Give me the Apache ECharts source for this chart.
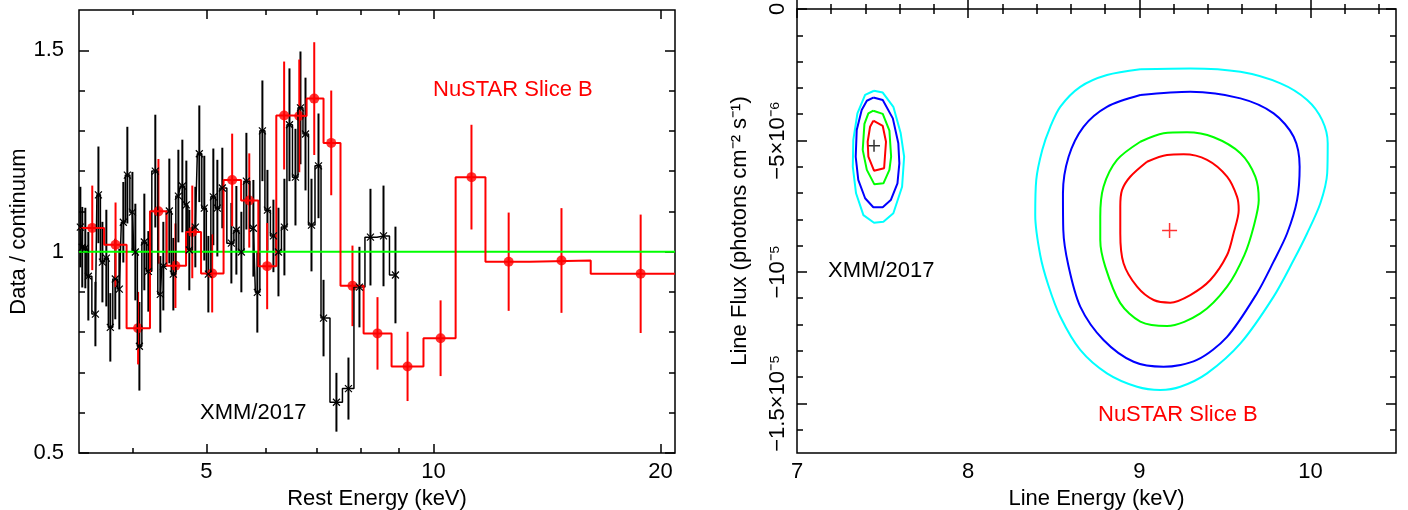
<!DOCTYPE html>
<html lang="en">
<head>
<meta charset="UTF-8">
<title>Data / continuum and line contours</title>
<script src="https://cdn.jsdelivr.net/npm/echarts@6.0.0/dist/echarts.min.js"></script>
<style>
    html, body { margin: 0; padding: 0; background: #fff; }
    #chart { width: 1408px; height: 510px; }
</style>
</head>
<body>
<div id="chart"></div>
<script>
    // ---- left panel: ratio spectra ----
    const xmmEnergy = [3.404, 3.424, 3.456, 3.488, 3.564, 3.597, 3.641, 3.685, 3.730, 3.787,
        3.834, 3.881, 3.929, 3.990, 4.026, 4.076, 4.138, 4.189, 4.279, 4.345,
        4.385, 4.466, 4.521, 4.591, 4.647, 4.704, 4.747, 4.835, 4.894, 4.969,
        5.031, 5.108, 5.171, 5.250, 5.397, 5.480, 5.564, 5.650, 5.772, 5.842,
        5.933, 6.025, 6.136, 6.231, 6.345, 6.444, 6.563, 6.664, 6.767, 6.892,
        7.041, 7.150, 7.437, 7.715, 7.978, 8.251, 8.586, 8.905];
    const xmmRatio = [1.061, 1.011, 1.009, 0.939, 0.845, 1.141, 0.974, 0.984, 0.812, 0.932,
        0.907, 1.073, 1.190, 1.098, 0.999, 0.765, 1.024, 0.951, 1.200, 0.894,
        0.964, 1.101, 0.944, 1.138, 1.163, 1.116, 1.004, 1.061, 1.243, 1.108,
        0.944, 1.136, 1.108, 1.158, 1.021, 1.053, 0.999, 1.175, 1.058, 0.899,
        1.300, 1.103, 1.039, 0.999, 1.061, 1.315, 1.185, 1.357, 1.292, 1.066,
        1.213, 0.835, 0.626, 0.660, 0.912, 1.036, 1.039, 0.942];
    const xmmErr = [0.10, 0.10, 0.10, 0.11, 0.08, 0.12, 0.10, 0.12, 0.085, 0.10,
        0.10, 0.10, 0.12, 0.10, 0.12, 0.11, 0.12, 0.10, 0.14, 0.095,
        0.11, 0.13, 0.09, 0.115, 0.115, 0.11, 0.10, 0.10, 0.12, 0.13,
        0.095, 0.12, 0.12, 0.10, 0.10, 0.11, 0.10, 0.12, 0.12, 0.10,
        0.125, 0.10, 0.09, 0.11, 0.12, 0.14, 0.12, 0.14, 0.14, 0.115,
        0.13, 0.095, 0.073, 0.077, 0.10, 0.12, 0.125, 0.12];

    const nuEnergy = [3.53, 3.79, 4.06, 4.32, 4.55, 4.79, 5.09, 5.41, 5.70, 6.02, 6.34,
        6.64, 6.95, 7.32, 7.81, 8.43, 9.24, 10.22, 11.23, 12.58, 14.78, 18.82];
    const nuRatio = [1.059, 1.017, 0.81, 1.10, 0.965, 1.049, 0.946, 1.178, 1.127, 0.964, 1.338,
        1.337, 1.38, 1.27, 0.915, 0.797, 0.715, 0.785, 1.185, 0.975, 0.978, 0.945];
    const nuErr = [0.105, 0.105, 0.09, 0.13, 0.105, 0.115, 0.097, 0.115, 0.117, 0.107, 0.134,
        0.14, 0.14, 0.13, 0.10, 0.09, 0.086, 0.094, 0.13, 0.122, 0.13, 0.147];
    const nuBinEdges = [3.39, 3.66, 3.92, 4.21, 4.43, 4.70, 4.92, 5.27, 5.56, 5.86, 6.19, 6.50,
        6.79, 7.15, 7.53, 8.08, 8.80, 9.70, 10.70, 11.72, 13.41, 16.16, 20.9];

    const ratioLine = 1;
    const restRange = [3.39, 20.9];
    const ratioRange = [0.5, 1.6];
    const restTicks = [5, 10, 20];
    const restMinor = [4, 6, 7, 8, 9];
    const ratioTicks = [0.5, 1, 1.5];
    const ratioMinor = [0.6, 0.7, 0.8, 0.9, 1.1, 1.2, 1.3, 1.4];

    // ---- right panel: confidence contours (flux in units of 1e-6) ----
    const xmmBest = [[7.45, -5.20]];
    const xmmRed = [[7.446, -4.25], [7.501, -4.45], [7.520, -5.05], [7.509, -6.06], [7.450, -6.15],
        [7.417, -5.62], [7.413, -5.05], [7.427, -4.48], [7.446, -4.25]];
    const xmmGreen = [[7.446, -3.87], [7.501, -3.99], [7.540, -4.63], [7.550, -5.62], [7.540, -6.12],
        [7.505, -6.63], [7.452, -6.67], [7.408, -6.12], [7.384, -5.36], [7.394, -4.37],
        [7.417, -3.97], [7.446, -3.87]];
    const xmmBlue = [[7.446, -3.37], [7.501, -3.46], [7.560, -4.16], [7.592, -5.11], [7.598, -5.87],
        [7.587, -6.63], [7.548, -7.27], [7.501, -7.54], [7.446, -7.54], [7.398, -7.20],
        [7.358, -6.50], [7.343, -5.62], [7.349, -4.60], [7.378, -3.84], [7.408, -3.49],
        [7.446, -3.37]];
    const xmmCyan = [[7.450, -3.11], [7.501, -3.18], [7.563, -3.72], [7.606, -4.73], [7.626, -5.62],
        [7.614, -6.76], [7.563, -7.77], [7.505, -8.09], [7.450, -8.13], [7.388, -7.84],
        [7.345, -7.01], [7.326, -6.00], [7.329, -4.98], [7.353, -3.97], [7.398, -3.27],
        [7.450, -3.11]];

    const nuBest = [[9.177, -8.43]];
    const nuRed = [[9.045, -5.81], [9.162, -5.55], [9.259, -5.53], [9.396, -5.74], [9.513, -6.38],
        [9.571, -7.14], [9.581, -7.65], [9.551, -8.53], [9.513, -9.36], [9.415, -10.31],
        [9.298, -10.88], [9.181, -11.17], [9.084, -11.07], [8.987, -10.56], [8.908, -9.67],
        [8.889, -8.53], [8.889, -7.52], [8.899, -6.89], [8.947, -6.38], [9.045, -5.81]];
    const nuGreen = [[9.006, -5.05], [9.142, -4.73], [9.279, -4.69], [9.435, -4.88], [9.591, -5.49],
        [9.678, -6.38], [9.698, -7.27], [9.668, -8.28], [9.614, -9.36], [9.513, -10.56],
        [9.357, -11.58], [9.162, -12.06], [9.006, -11.89], [8.889, -11.19], [8.801, -9.80],
        [8.772, -8.79], [8.772, -7.90], [8.791, -6.76], [8.870, -5.74], [9.006, -5.05]];
    const nuBlue = [[9.006, -3.27], [9.298, -3.15], [9.591, -3.40], [9.785, -3.97], [9.902, -4.86],
        [9.937, -6.00], [9.922, -7.27], [9.864, -8.53], [9.784, -9.62], [9.688, -10.81],
        [9.513, -12.47], [9.337, -13.35], [9.142, -13.61], [8.967, -13.42], [8.791, -12.59],
        [8.655, -11.32], [8.585, -9.74], [8.556, -8.41], [8.554, -7.01], [8.587, -5.62],
        [8.674, -4.48], [8.811, -3.72], [9.006, -3.27]];
    const nuCyan = [[9.006, -2.29], [9.298, -2.26], [9.591, -2.39], [9.825, -2.83], [9.981, -3.46],
        [10.068, -4.22], [10.101, -5.11], [10.098, -6.25], [10.058, -7.39], [9.981, -8.53],
        [9.902, -9.55], [9.785, -10.94], [9.591, -12.72], [9.396, -13.86], [9.240, -14.37],
        [9.123, -14.49], [8.987, -14.37], [8.811, -13.86], [8.655, -12.97], [8.538, -11.70],
        [8.468, -10.50], [8.421, -9.36], [8.392, -7.84], [8.398, -6.50], [8.433, -5.36],
        [8.480, -4.48], [8.538, -3.72], [8.655, -2.96], [8.811, -2.51], [9.006, -2.29]];

    const lineERange = [7, 10.5];
    const fluxRange = [-16.89, 0];
    const lineETicks = [7, 8, 9, 10];
    const lineEMinor = [7.2, 7.4, 7.6, 7.8, 8.2, 8.4, 8.6, 8.8, 9.2, 9.4, 9.6, 9.8, 10.2, 10.4];
    const fluxTicks = [0, -5, -10, -15];
    const fluxMinor = [-1, -2, -3, -4, -6, -7, -8, -9, -11, -12, -13, -14, -16];
    const fluxTickText = { '0': '0', '-5': '\u22125\u00d710\u207b\u2076', '-10': '\u221210\u207b\u2075', '-15': '\u22121.5\u00d710\u207b\u2075' };

    const FONT = "'Liberation Sans', Arial, Helvetica, sans-serif";

    // four axes per dimension: labelled side, its minor ticks, mirrored side, its minor ticks
    function axisSet(dim, grid, type, range, major, minor, extra) {
        const sides = dim === 'x' ? ['bottom', 'top'] : ['left', 'right'];
        const majorLen = dim === 'x' ? 9 : 10;
        const minorLen = dim === 'x' ? 5 : 6;
        const tick = (vals, len) => ({
            show: true, inside: true, length: len, customValues: vals,
            lineStyle: { color: '#000', width: 1.5 }
        });
        const list = [];
        sides.forEach((pos, k) => {
            const base = {
                gridIndex: grid, type: type, min: range[0], max: range[1], position: pos,
                axisLine: { show: false }, splitLine: { show: false }, splitArea: { show: false }
            };
            list.push(Object.assign({}, base, {
                axisTick: tick(major, majorLen),
                axisLabel: k === 0 ? extra.label : { show: false }
            }, k === 0 ? extra.name : {}));
            list.push(Object.assign({}, base, { axisTick: tick(minor, minorLen), axisLabel: { show: false } }));
        });
        return list;
    }

    function errorBars(axis, xs, ys, errs, color, width) {
        return {
            type: 'custom', xAxisIndex: axis, yAxisIndex: axis, clip: true,
            data: xs.map((x, i) => [x, ys[i] - errs[i], ys[i] + errs[i]]),
            encode: { x: 0, y: [1, 2] },
            renderItem: (params, api) => {
                const lo = api.coord([api.value(0), api.value(1)]);
                const hi = api.coord([api.value(0), api.value(2)]);
                return {
                    type: 'line',
                    shape: { x1: lo[0], y1: lo[1], x2: hi[0], y2: hi[1] },
                    style: { stroke: color, lineWidth: width }
                };
            }
        };
    }

    function contour(data, color, smooth) {
        return {
            type: 'line', xAxisIndex: 4, yAxisIndex: 4, data: data, showSymbol: false,
            smooth: smooth, lineStyle: { color: color, width: 2 }, silent: true
        };
    }

    const labelStyle = { color: '#000', fontSize: 22, fontFamily: FONT };
    const nameStyle = { color: '#000', fontSize: 22, fontFamily: FONT };

    // red step histogram from bin edges
    const nuStep = [];
    nuRatio.forEach((v, i) => {
        nuStep.push([nuBinEdges[i], v]);
        nuStep.push([nuBinEdges[i + 1], v]);
    });

    const xAxes = [].concat(
        axisSet('x', 0, 'log', restRange, restTicks, restMinor, {
            label: Object.assign({ show: true, customValues: restTicks, margin: 8, formatter: v => String(v) }, labelStyle),
            name: { name: 'Rest Energy (keV)', nameLocation: 'middle', nameGap: 31, nameTextStyle: nameStyle }
        }),
        axisSet('x', 1, 'value', lineERange, lineETicks, lineEMinor, {
            label: Object.assign({ show: true, customValues: lineETicks, margin: 8, formatter: v => String(v) }, labelStyle),
            name: { name: 'Line Energy (keV)', nameLocation: 'middle', nameGap: 31, nameTextStyle: nameStyle }
        })
    );
    const yAxes = [].concat(
        axisSet('y', 0, 'value', ratioRange, ratioTicks, ratioMinor, {
            label: Object.assign({ show: true, customValues: ratioTicks, margin: 15, formatter: v => String(v) }, labelStyle),
            name: { name: 'Data / continuum', nameLocation: 'middle', nameGap: 49, nameTextStyle: nameStyle }
        }),
        axisSet('y', 1, 'value', fluxRange, fluxTicks, fluxMinor, {
            label: Object.assign({ show: true, customValues: fluxTicks, margin: 8, rotate: 90,
                formatter: v => fluxTickText[String(Math.round(v))] }, labelStyle),
            name: { name: 'Line Flux (photons cm\u207b\u00b2 s\u207b\u00b9)', nameLocation: 'middle', nameGap: 46, nameTextStyle: nameStyle }
        })
    );

    const plusSymbol = 'path://M5,0L5,10M0,5L10,5';
    const crossSymbol = 'path://M0,0L10,10M10,0L0,10';

    const option = {
        animation: false,
        backgroundColor: '#fff',
        grid: [
            { left: 79, top: 10, width: 596, height: 443, show: true, borderColor: '#000', borderWidth: 1.5, outerBoundsMode: 'none' },
            { left: 797, top: 9, width: 599, height: 444, show: true, borderColor: '#000', borderWidth: 1.5, outerBoundsMode: 'none' }
        ],
        xAxis: xAxes,
        yAxis: yAxes,
        graphic: [
            { type: 'text', x: 433, y: 90, style: { text: 'NuSTAR Slice B', fill: '#ff0000', fontSize: 22, fontFamily: FONT, verticalAlign: 'middle' } },
            { type: 'text', x: 200, y: 413, style: { text: 'XMM/2017', fill: '#000', fontSize: 22, fontFamily: FONT, verticalAlign: 'middle' } },
            { type: 'text', x: 828, y: 271, style: { text: 'XMM/2017', fill: '#000', fontSize: 22, fontFamily: FONT, verticalAlign: 'middle' } },
            { type: 'text', x: 1098, y: 415, style: { text: 'NuSTAR Slice B', fill: '#ff0000', fontSize: 22, fontFamily: FONT, verticalAlign: 'middle' } }
        ],
        series: [
            errorBars(0, xmmEnergy, xmmRatio, xmmErr, '#000', 2),
            {
                type: 'line', xAxisIndex: 0, yAxisIndex: 0, step: 'middle',
                data: xmmEnergy.map((e, i) => [e, xmmRatio[i]]),
                lineStyle: { color: '#000', width: 1.5 },
                symbol: crossSymbol, symbolSize: 7, showAllSymbol: true,
                itemStyle: { color: 'none', borderColor: '#000', borderWidth: 1.2 }
            },
            {
                type: 'line', xAxisIndex: 0, yAxisIndex: 0, showSymbol: false,
                data: [[restRange[0], ratioLine], [restRange[1], ratioLine]],
                lineStyle: { color: '#00ff00', width: 2 }
            },
            errorBars(0, nuEnergy, nuRatio, nuErr, '#ff0000', 2),
            {
                type: 'line', xAxisIndex: 0, yAxisIndex: 0, showSymbol: false, data: nuStep,
                lineStyle: { color: '#ff0000', width: 2 }
            },
            {
                type: 'scatter', xAxisIndex: 0, yAxisIndex: 0,
                data: nuEnergy.map((e, i) => [e, nuRatio[i]]),
                symbol: 'circle', symbolSize: 10, itemStyle: { color: '#ff0000' }
            },
            contour(xmmCyan, '#00ffff', false),
            contour(xmmBlue, '#0000ff', false),
            contour(xmmGreen, '#00ff00', false),
            contour(xmmRed, '#ff0000', false),
            contour(nuCyan, '#00ffff', 0.3),
            contour(nuBlue, '#0000ff', 0.3),
            contour(nuGreen, '#00ff00', 0.3),
            contour(nuRed, '#ff0000', 0.3),
            {
                type: 'scatter', xAxisIndex: 4, yAxisIndex: 4, data: xmmBest,
                symbol: plusSymbol, symbolSize: 12,
                itemStyle: { color: 'none', borderColor: '#000', borderWidth: 1.5 }
            },
            {
                type: 'scatter', xAxisIndex: 4, yAxisIndex: 4, data: nuBest,
                symbol: plusSymbol, symbolSize: 15,
                itemStyle: { color: 'none', borderColor: '#ff0000', borderWidth: 1.5 }
            }
        ]
    };

    const chart = echarts.init(document.getElementById('chart'), null, { renderer: 'canvas' });
    chart.setOption(option);
</script>
</body>
</html>
